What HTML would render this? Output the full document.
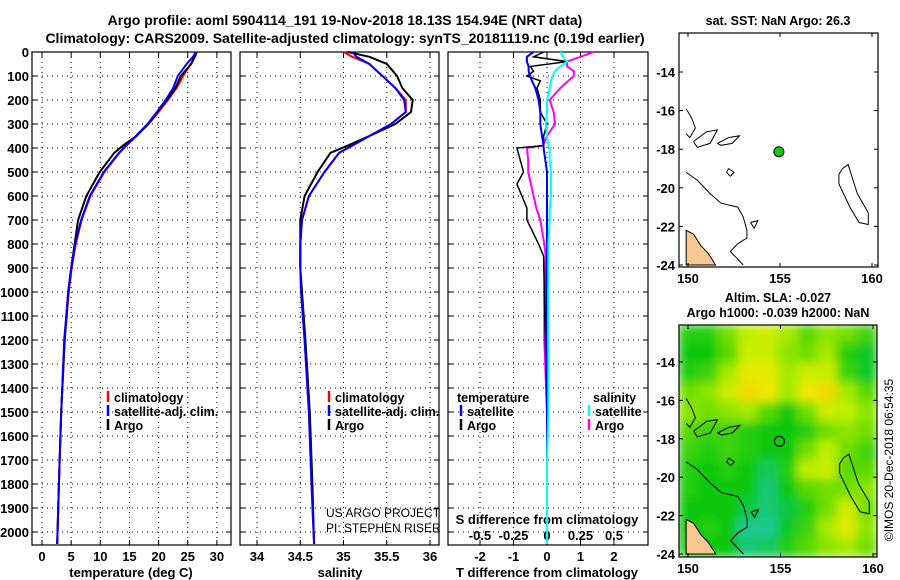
<!DOCTYPE html>
<html><head><meta charset="utf-8">
<style>
html,body{margin:0;padding:0;background:#fff;}
svg{display:block;font-family:"Liberation Sans",Arial,sans-serif;font-weight:bold;}
</style></head>
<body>
<svg id="chart" width="900" height="580" viewBox="0 0 900 580" xmlns="http://www.w3.org/2000/svg">
<defs>
<filter id="blur" x="0" y="0" width="1" height="1"><feGaussianBlur stdDeviation="5"/></filter>
<clipPath id="clipMap2"><rect x="679" y="325" width="198" height="232"/></clipPath>
<clipPath id="clipMap1"><rect x="679" y="33" width="199" height="234"/></clipPath>
</defs>
<text x="345" y="25" text-anchor="middle" font-size="14">Argo profile: aoml 5904114_191 19-Nov-2018 18.13S 154.94E (NRT data)</text>
<text x="345" y="43" text-anchor="middle" font-size="14">Climatology: CARS2009. Satellite-adjusted climatology: synTS_20181119.nc (0.19d earlier)</text>
<g id="g"></g>
</svg>
<script>
// ---------- data ----------
const depthTicks = [0,100,200,300,400,500,600,700,800,900,1000,1100,1200,1300,1400,1500,1600,1700,1800,1900,2000];
const tempTicks = [0,5,10,15,20,25,30];
const salTicks = [34,34.5,35,35.5,36];
const salTickLabels = ["34","34.5","35","35.5","36"];
const tdiffTicks = [-2,-1,0,1,2];
const sdiffTicks = [-0.5,-0.25,0,0.25,0.5];
const sdiffLabels = ["-0.5","-0.25","0","0.25","0.5"];

const profDepth = [0,20,50,100,150,200,250,300,350,390,420,500,600,700,800,900,1000,1200,1500,1800,2050];
const tempClim  = [26.6,26.2,25.5,24.2,23.1,21.6,20.0,18.3,16.2,14.5,13.3,10.7,8.3,6.8,5.8,5.1,4.6,3.9,3.3,2.9,2.6];
const tempSat   = [26.4,25.9,24.8,23.3,22.5,21.2,19.7,18.1,16.1,14.4,13.2,10.6,8.2,6.7,5.7,5.0,4.5,3.8,3.3,2.9,2.6];
const tempArgo  = [26.5,26.2,25.6,23.8,22.9,21.4,19.8,18.2,16.2,13.9,12.4,9.9,7.6,6.2,5.6,5.0,4.5,3.9,3.3,2.9,2.6];
const salClim   = [35.0,35.1,35.3,35.45,35.6,35.72,35.72,35.55,35.3,35.1,34.95,34.78,34.6,34.52,34.5,34.5,34.51,34.55,34.6,34.63,34.66];
const salSat    = [35.1,35.15,35.3,35.45,35.6,35.7,35.72,35.55,35.3,35.1,34.95,34.78,34.6,34.52,34.5,34.5,34.51,34.55,34.6,34.63,34.66];
const salArgo   = [35.05,35.3,35.5,35.62,35.68,35.8,35.78,35.6,35.3,35.05,34.85,34.7,34.55,34.5,34.5,34.5,34.52,34.56,34.61,34.64,34.66];

const diffDepth = [0,20,40,60,80,100,120,150,200,250,300,350,390,400,450,500,550,600,650,700,800,850,1000,1200,1500,1700,2000,2050];
const tdiffArgo = [-0.1,-0.4,0.6,-0.5,-0.4,-0.6,-0.2,-0.3,-0.2,-0.2,0.0,-0.1,-0.1,-0.9,-0.8,-0.7,-0.9,-0.75,-0.6,-0.6,-0.25,-0.1,-0.08,-0.05,0,0,0,0];
const tdiffSat  = [-0.4,-0.6,-0.6,-0.55,-0.55,-0.5,-0.45,-0.35,-0.25,-0.2,-0.2,-0.15,-0.1,-0.1,-0.05,0,0,0,0,0,0,0,-0.02,-0.02,0,0,0,0];
const sdiffArgo = [0.35,0.25,0.15,0.15,0.2,0.2,0.16,0.1,0.02,0.05,0.06,0.0,-0.03,-0.15,-0.14,-0.14,-0.12,-0.1,-0.08,-0.05,-0.02,-0.01,-0.02,-0.02,0.0,0.0,0.0,0.0];
const sdiffSat  = [0.1,0.12,0.15,0.1,0.06,0.04,0.03,0.02,0.0,0.0,-0.01,0.0,0.01,0.02,0.02,0.03,0.03,0.03,0.02,0.02,0.01,0.01,0.01,0.01,0.01,0.0,0.0,0.0];

const argoLon = 154.94, argoLat = -18.13;
const slaGrid = [
[.35,.35,.5,.65,.7,.6,.45,.55,.5,.4],
[.3,.3,.45,.7,.7,.55,.5,.6,.35,.25],
[.35,.4,.6,.8,.8,.6,.7,.7,.4,.25],
[.5,.55,.7,.9,.85,.6,.85,.9,.6,.45],
[.55,.5,.55,.6,.45,.3,.5,.7,.65,.55],
[.45,.4,.4,.35,.3,.3,.35,.5,.55,.5],
[.4,.35,.4,.35,.3,.3,.5,.65,.5,.4],
[.35,.3,.35,.3,.15,.35,.65,.7,.45,.45],
[.35,.3,.3,.3,.1,.3,.45,.5,.5,.55],
[.3,.3,.3,.2,.1,.2,.35,.5,.7,.5],
[.3,.35,.3,.05,.05,.25,.4,.6,.8,.55],
[.35,.3,.3,.1,.15,.35,.45,.55,.6,.5]];

// ---------- helpers ----------
const NS="http://www.w3.org/2000/svg";
const G=document.getElementById('g');
function mk(tag,attrs,parent){const e=document.createElementNS(NS,tag);for(const k in attrs)e.setAttribute(k,attrs[k]);(parent||G).appendChild(e);return e;}
function txt(x,y,s,size,anchor,parent){const e=mk('text',{x:x,y:y,'font-size':size,'text-anchor':anchor||'middle'},parent);e.textContent=s;return e;}
const yD = d => 52 + d*0.24;
const xT = v => 42 + v*5.83;
const xS = v => 257 + (v-34)*86.5;
const xTD = v => 547 + v*33.5;
const xSD = v => 547 + v*134;

function panel(x0,x1,name){
  const g=mk('g',{});
  
  
  return g;
}
function frame(g,x0,x1){mk('rect',{x:x0,y:52,width:x1-x0,height:493,fill:'none',stroke:'#000','stroke-width':1.2},g);}
function hgrid(g,x0,x1){
  depthTicks.forEach(d=>{const y=yD(d);
    mk('line',{x1:x0,x2:x1,y1:y,y2:y,stroke:'#000','stroke-dasharray':'1 4','stroke-width':1},g);
    mk('line',{x1:x0,x2:x0+5,y1:y,y2:y,stroke:'#000'},g);mk('line',{x1:x1-5,x2:x1,y1:y,y2:y,stroke:'#000'},g);});
}
function vgrid(g,vals,fx){vals.forEach(v=>{const x=fx(v);
  mk('line',{x1:x,x2:x,y1:52,y2:545,stroke:'#000','stroke-dasharray':'1 4','stroke-width':1},g);
  mk('line',{x1:x,x2:x,y1:545,y2:540,stroke:'#000'},g);mk('line',{x1:x,x2:x,y1:52,y2:57,stroke:'#000'},g);});}
function line(g,ds,vs,fx,color,name,w){
  const p=ds.map((d,i)=>fx(vs[i]).toFixed(1)+','+yD(d).toFixed(1)).join(' ');
  const e=mk('polyline',{points:p,fill:'none',stroke:color,'stroke-width':w||2},g);
  
  
}
function legItem(g,x,y,color,label){
  mk('line',{x1:x,x2:x,y1:y-11,y2:y,stroke:color,'stroke-width':2.5},g);
  if(label) txt(x+6,y,label,12.5,'start',g);
}

// ---------- panel 1: temperature ----------
const p1=panel(32,231,'temperature-panel');
hgrid(p1,32,231); vgrid(p1,tempTicks,xT); frame(p1,32,231);
depthTicks.forEach(d=>txt(29,yD(d)+5,String(d),13,'end',p1));
tempTicks.forEach(v=>txt(xT(v),561,String(v),13,'middle',p1));
txt(131,577,'temperature (deg C)',13,'middle',p1);
line(p1,profDepth,tempClim,xT,'#f00','temp-climatology-line');
line(p1,profDepth,tempArgo,xT,'#000','temp-argo-line');
line(p1,profDepth,tempSat,xT,'#00f','temp-satellite-line');
legItem(p1,108,402,'#f00','climatology');
legItem(p1,108,416,'#00f','satellite-adj. clim.');
legItem(p1,108,430,'#000','Argo');

// ---------- panel 2: salinity ----------
const p2=panel(240,439,'salinity-panel');
hgrid(p2,240,439); vgrid(p2,salTicks,xS); frame(p2,240,439);
salTicks.forEach((v,i)=>txt(xS(v),561,salTickLabels[i],13,'middle',p2));
txt(340,577,'salinity',13,'middle',p2);
line(p2,profDepth,salClim,xS,'#f00','sal-climatology-line');
line(p2,profDepth,salArgo,xS,'#000','sal-argo-line');
line(p2,profDepth,salSat,xS,'#00f','sal-satellite-line');
legItem(p2,329,402,'#f00','climatology');
legItem(p2,329,416,'#00f','satellite-adj. clim.');
legItem(p2,329,430,'#000','Argo');
const c1=txt(326,517,'US ARGO PROJECT',12,'start',p2);c1.setAttribute('font-weight','normal');
const c2=txt(326,532,'PI: STEPHEN RISER',12,'start',p2);c2.setAttribute('font-weight','normal');

// ---------- panel 3: differences ----------
const p3=panel(448,648,'difference-panel');
hgrid(p3,448,648); vgrid(p3,tdiffTicks,xTD); frame(p3,448,648);
tdiffTicks.forEach(v=>txt(xTD(v),561,String(v),13,'middle',p3));
txt(547,577,'T difference from climatology',13,'middle',p3);
txt(547,524,'S difference from climatology',13,'middle',p3);
sdiffTicks.forEach((v,i)=>txt(xSD(v),540,sdiffLabels[i],13,'middle',p3));
line(p3,diffDepth,sdiffArgo,xSD,'#f0f','sdiff-argo-line');
line(p3,diffDepth,tdiffArgo,xTD,'#000','tdiff-argo-line',1.5);
line(p3,diffDepth,tdiffSat,xTD,'#00f','tdiff-satellite-line');
line(p3,diffDepth,sdiffSat,xSD,'#0ff','sdiff-satellite-line');
txt(457,402,'temperature',12.5,'start',p3);
legItem(p3,461,416,'#00f','satellite');
legItem(p3,461,430,'#000','Argo');
txt(593,402,'salinity',12.5,'start',p3);
legItem(p3,589,416,'#0ff','satellite');
legItem(p3,589,430,'#f0f','Argo');

// ---------- maps ----------
function coast(g,fx,fy){
  const aus=[[149.9,-22.2],[150.3,-22.4],[150.7,-23.0],[151.1,-23.4],[151.5,-24.0],[149.9,-24.0]];
  const pa=mk('polygon',{points:aus.map(p=>fx(p[0])+','+fy(p[1])).join(' '),fill:'#f9c890',stroke:'#000','stroke-width':1},g);
  
  
  const shapes=[
    [[149.9,-19.2],[150.5,-19.6],[151.2,-20.3],[151.8,-20.8],[152.7,-21.0],[153.0,-21.5],[153.2,-22.2],[153.2,-22.6],[152.7,-22.9],[152.3,-23.3],[152.7,-23.7],[153.0,-24.0]],
    [[158.4,-19.0],[158.7,-18.8],[159.2,-20.3],[159.8,-21.3],[159.8,-21.9],[159.3,-21.8],[158.8,-21.0],[158.2,-19.8],[158.2,-19.3],[158.4,-19.0]],
    [[150.3,-17.6],[151.0,-17.1],[151.6,-17.0],[151.2,-17.7],[150.5,-17.9],[150.3,-17.6]],
    [[151.6,-17.7],[152.2,-17.4],[152.8,-17.3],[152.4,-17.7],[151.8,-17.8],[151.6,-17.7]],
    [[149.9,-15.9],[150.2,-16.4],[150.4,-16.9],[150.1,-17.4],[149.9,-17.2]],
    [[152.2,-19.0],[152.5,-19.2],[152.3,-19.4],[152.1,-19.2],[152.2,-19.0]],
    [[153.4,-21.8],[153.8,-21.7],[153.6,-22.1],[153.4,-21.8]]
  ];
  shapes.forEach((s,i)=>{const e=mk('polyline',{points:s.map(p=>fx(p[0]).toFixed(1)+','+fy(p[1]).toFixed(1)).join(' '),fill:'none',stroke:'#000','stroke-width':1},g);
    
    });
}
function mapAxes(g,x0,y0,w,h,fx,fy){
  mk('rect',{x:x0,y:y0,width:w,height:h,fill:'none',stroke:'#000','stroke-width':1.2},g);
  [150,155,160].forEach(l=>{const x=fx(l);txt(x,y0+h+16,String(l),13,'middle',g);
    mk('line',{x1:x,x2:x,y1:y0+h,y2:y0+h-4,stroke:'#000'},g);mk('line',{x1:x,x2:x,y1:y0,y2:y0+4,stroke:'#000'},g);});
  [-14,-16,-18,-20,-22,-24].forEach(l=>{const y=fy(l);txt(x0-4,y+5,String(l),13,'end',g);
    mk('line',{x1:x0,x2:x0+4,y1:y,y2:y,stroke:'#000'},g);mk('line',{x1:x0+w-4,x2:x0+w,y1:y,y2:y,stroke:'#000'},g);});
}
// map 1
const m1=panel(679,878,'sst-map');
const f1x=l=>688+(l-150)*18.4, f1y=l=>72+(-14-l)*19.3;
txt(778,25,'sat. SST: NaN Argo: 26.3',12.5,'middle',m1);
const m1c=mk('g',{'clip-path':'url(#clipMap1)'},m1);
coast(m1c,f1x,f1y);
const pt=mk('circle',{cx:f1x(argoLon),cy:f1y(argoLat),r:5,fill:'#1c1',stroke:'#000','stroke-width':1},m1);


mapAxes(m1,679,33,199,234,f1x,f1y);

// map 2
const m2=panel(679,877,'sla-map');
const f2x=l=>688+(l-150)*18.5, f2y=l=>362+(-14-l)*19.2;
txt(778,302,'Altim. SLA: -0.027',12.5,'middle',m2);
txt(778,317,'Argo h1000: -0.039 h2000: NaN',12.5,'middle',m2);
function lerp(a,b,t){return Math.round(a+(b-a)*t);}
const stops=[[0,[30,200,170]],[0.3,[10,200,10]],[0.65,[190,240,0]],[0.85,[240,232,0]],[1,[248,190,0]]];
function cmap(v){for(let i=1;i<stops.length;i++){if(v<=stops[i][0]){const a=stops[i-1],b=stops[i];const t=(v-a[0])/(b[0]-a[0]);return 'rgb('+lerp(a[1][0],b[1][0],t)+','+lerp(a[1][1],b[1][1],t)+','+lerp(a[1][2],b[1][2],t)+')';}}return 'rgb(248,190,0)';}
const m2c=mk('g',{'clip-path':'url(#clipMap2)'},m2);
const hm=mk('g',{filter:'url(#blur)'},m2c);
const rows=slaGrid.length, cols=slaGrid[0].length, cw=198/cols, ch=232/rows;
mk('rect',{x:679,y:325,width:198,height:232,fill:cmap(0.4)},hm);
slaGrid.forEach((r,i)=>r.forEach((v,j)=>{const c=mk('rect',{x:679+j*cw-0.5,y:325+i*ch-0.5,width:cw+1,height:ch+1,fill:cmap(v)},hm);
  
  }));
coast(m2c,f2x,f2y);
mk('circle',{cx:f2x(argoLon),cy:f2y(argoLat),r:5,fill:'none',stroke:'#000','stroke-width':1.2},m2);
mapAxes(m2,679,325,198,232,f2x,f2y);
const ts=txt(0,0,'©IMOS 20-Dec-2018 06:54:35',12,'middle',m2);
ts.setAttribute('font-weight','normal');
ts.setAttribute('transform','translate(893,460) rotate(-90)');
</script>
</body></html>
